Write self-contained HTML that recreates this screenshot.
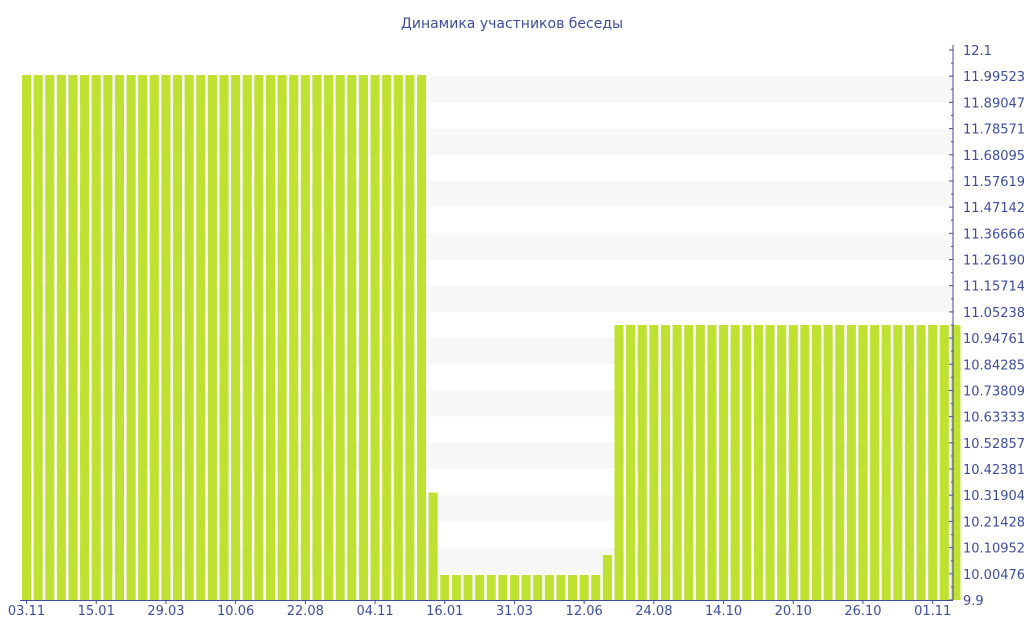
<!DOCTYPE html>
<html><head><meta charset="utf-8"><style>
html,body{margin:0;padding:0;background:#fff;width:1024px;height:640px;overflow:hidden}
svg text{font-family:"DejaVu Sans","Liberation Sans",sans-serif}
</style></head><body>
<svg id="chart" width="1024" height="640" viewBox="0 0 1024 640" xmlns="http://www.w3.org/2000/svg">
<text x="512" y="28" text-anchor="middle" font-size="14" fill="#3d4d9e">Динамика участников беседы</text>
<g id="bands"></g><g id="bars"></g><g id="axes"></g>
</svg>
<script>
const values = [12,12,12,12,12,12,12,12,12,12,12,12,12,12,12,12,12,12,12,12,12,12,12,12,12,12,12,12,12,12,12,12,12,12,12,
10.33,
10,10,10,10,10,10,10,10,10,10,10,10,10,10,
10.08,
11,11,11,11,11,11,11,11,11,11,11,11,11,11,11,11,11,11,11,11,11,11,11,11,11,11,11,11,11,11];
const xLabels = ["03.11","15.01","29.03","10.06","22.08","04.11","16.01","31.03","12.06","24.08","14.10","20.10","26.10","01.11"];
const yMin = 9.9, yMax = 12.1, yDivs = 21;

const NS="http://www.w3.org/2000/svg";
const plotL=22, plotR=963, plotT=50, plotB=600, axisX=953;
const slot=(plotR-plotL)/values.length, bw=slot*0.78;
function xPos(i){return plotL+i*slot;}
function yPos(v){return plotB-(v-yMin)/(yMax-yMin)*(plotB-plotT);}
function mk(tag,attrs,parent){const e=document.createElementNS(NS,tag);for(const k in attrs)e.setAttribute(k,attrs[k]);parent.appendChild(e);return e;}
const bands=document.getElementById('bands'),bars=document.getElementById('bars'),axes=document.getElementById('axes');
const step=(yMax-yMin)/yDivs;
for(let k=0;k<yDivs;k++){
  if(k%2===1) continue;
  const v1=yMax-step*(k+1), v2=yMax-step*(k+2);
  if(v2<yMin) continue;
  const r=mk('rect',{x:plotL,y:yPos(v1),width:axisX-plotL,height:yPos(v2)-yPos(v1),fill:'#f7f7f7'},bands);
  
  
}
values.forEach((v,i)=>{
  const r=mk('rect',{x:xPos(i),y:yPos(v),width:bw,height:plotB-yPos(v),fill:'#bee132'},bars);
  
  
});
const ya=mk('line',{x1:axisX,y1:plotT-5,x2:axisX,y2:plotB,stroke:'#3d4d9e','stroke-width':1},axes);


const xa=mk('line',{x1:plotL-2,y1:plotB+0.5,x2:axisX,y2:plotB+0.5,stroke:'#3d4d9e','stroke-width':1},axes);


for(let k=0;k<=yDivs;k++){
  const v=yMin+step*k, y=yPos(v);
  mk('line',{x1:axisX-4,y1:y,x2:axisX,y2:y,stroke:'#3d4d9e'},axes);
  if(k<yDivs){const ym=yPos(v+step/2);mk('line',{x1:axisX-2,y1:ym,x2:axisX,y2:ym,stroke:'#3d4d9e'},axes);}
  const t=mk('text',{x:axisX+10,y:y+5,'font-size':13,fill:'#3d4d9e'},axes);
  t.textContent=parseFloat(v.toFixed(6)).toString();
  
  
}
xLabels.forEach((l,j)=>{
  const i=j*6, x=xPos(i)+bw/2;
  mk('line',{x1:x,y1:plotB,x2:x,y2:plotB+4,stroke:'#3d4d9e'},axes);
  const t=mk('text',{x:x,y:plotB+15,'text-anchor':'middle','font-size':13,fill:'#3d4d9e'},axes);
  t.textContent=l;
  
  
});
</script>
</body></html>
